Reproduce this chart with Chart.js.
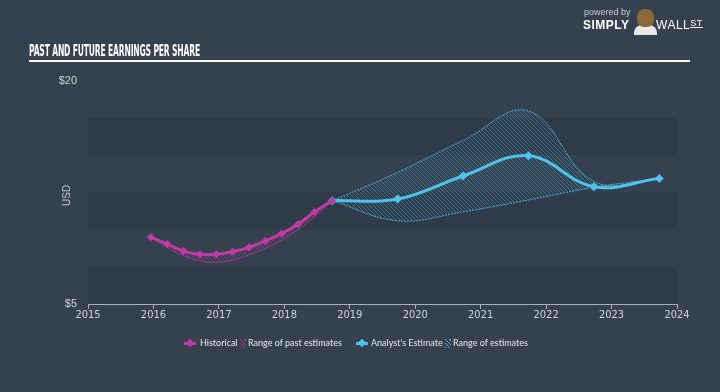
<!DOCTYPE html>
<html>
<head>
<meta charset="utf-8">
<script src="https://cdn.jsdelivr.net/npm/chart.js@4.4.0/dist/chart.umd.min.js"></script>
<style>
  html,body{margin:0;padding:0;background:#35414f;}
  #wrap{position:relative;width:720px;height:392px;background:#35414f;overflow:hidden;font-family:"Liberation Sans",Arial,sans-serif;}
  #c{position:absolute;left:0;top:0;}
  #title{position:absolute;left:29px;top:41px;color:#fff;font-family:"Liberation Sans Narrow","DejaVu Sans Condensed",sans-serif;font-weight:bold;font-size:16px;white-space:nowrap;transform-origin:0 0;letter-spacing:-0.3px;}
  #rule{position:absolute;left:29px;top:60px;width:661px;height:2px;background:#fff;}
  #usd{position:absolute;left:56px;top:190px;color:#c9ced5;font-size:10px;transform:rotate(-90deg);transform-origin:center;}
  .lg{position:absolute;top:337px;color:#e6e9ed;font-size:9px;font-family:Lato,"Liberation Sans",sans-serif;white-space:nowrap;}
  .ico{position:absolute;top:338px;width:12px;height:10px;}
  .ico .ln{position:absolute;left:0;top:4px;width:12px;height:3px;}
  .ico .dm{position:absolute;left:3px;top:2px;width:6px;height:6px;transform:rotate(45deg);}
  .hat{position:absolute;top:339px;width:6px;height:9px;}
  #logo1{position:absolute;left:584px;top:7px;color:#c9ced5;font-size:9px;}
  #logo2{position:absolute;left:583px;top:18px;color:#fff;font-size:12px;font-weight:bold;letter-spacing:0.5px;}
  #logo3{position:absolute;left:656px;top:18px;color:#fff;font-size:12px;letter-spacing:0.5px;}
  #bull{position:absolute;left:637px;top:9px;width:17px;height:18px;border-radius:45% 45% 40% 40%;background:#8a6a3a;}
  #suit{position:absolute;left:634px;top:25px;width:23px;height:10px;border-radius:8px 8px 0 0;background:#e8e8e8;}
</style>
</head>
<body>
<div id="wrap">
  <canvas id="c" width="720" height="392"></canvas>
  <div id="title">PAST AND FUTURE EARNINGS PER SHARE</div>
  <div id="rule"></div>
  <div id="usd">USD</div>
  <div id="logo1">powered by</div>
  <div id="logo2">SIMPLY</div>
  <div id="suit"></div>
  <div id="bull"></div>
  <div id="logo3">WALL<span style="font-size:9px;text-decoration:underline;vertical-align:top;">ST</span></div>

  <div class="ico" style="left:184px"><div class="ln" style="background:#c13ba5"></div><div class="dm" style="background:#c13ba5"></div></div>
  <div class="lg" style="left:200px">Historical</div>
  <div class="hat" style="left:240px;background:repeating-linear-gradient(45deg,rgba(193,59,165,0.8) 0 1px,transparent 1px 3px);"></div>
  <div class="lg" style="left:248px">Range of past estimates</div>
  <div class="ico" style="left:356px"><div class="ln" style="background:#4fc3e9"></div><div class="dm" style="background:#4fc3e9"></div></div>
  <div class="lg" style="left:371px">Analyst's Estimate</div>
  <div class="hat" style="left:445px;background:repeating-linear-gradient(45deg,rgba(79,195,233,0.8) 0 1px,transparent 1px 3px);"></div>
  <div class="lg" style="left:453px">Range of estimates</div>
</div>
<script>
// ---- data ----
const histYears = [2015.96, 2016.21, 2016.46, 2016.71, 2016.96, 2017.21, 2017.46, 2017.71, 2017.96, 2018.21, 2018.46, 2018.73];
const histEPS   = [9.49, 9.03, 8.56, 8.34, 8.34, 8.52, 8.81, 9.24, 9.75, 10.36, 11.19, 11.95];
const pastLow   = [9.49, 8.8, 8.25, 7.9, 7.8, 7.95, 8.3, 8.75, 9.3, 10.0, 10.85, 11.95];
const estYears  = [2018.73, 2019.73, 2020.73, 2021.73, 2022.73, 2023.73];
const estEPS    = [11.95, 12.06, 13.61, 14.97, 12.89, 13.45];
const estHigh   = [11.95, 13.85, 16.0, 17.98, 13.25, 13.45];
const estLow    = [11.95, 10.6, 11.2, 12.0, 12.85, 13.45];
const xTickLabels = ['2015','2016','2017','2018','2019','2020','2021','2022','2023','2024'];
const yTickValues = [5, 20];
const bandRanges = [[5, 7.5], [10, 12.5], [15, 17.5]];

const MAG = '#c13ba5', CYAN = '#4fc3e9';
const ctx = document.getElementById('c').getContext('2d');
function hatch(color){
  const c = document.createElement('canvas'); c.width = 4; c.height = 4;
  const g = c.getContext('2d');
  g.strokeStyle = color; g.lineWidth = 1;
  g.beginPath();
  g.moveTo(0,0); g.lineTo(4,4);
  g.moveTo(-1,3); g.lineTo(1,5);
  g.moveTo(3,-1); g.lineTo(5,1);
  g.stroke();
  return ctx.createPattern(c, 'repeat');
}
const pts = (xs, ys) => xs.map((x,i)=>({x, y: ys[i]}));

const bands = {
  id: 'bands',
  beforeDatasetsDraw(chart){
    const {ctx, chartArea: a, scales: {y}} = chart;
    ctx.save();
    ctx.fillStyle = '#303b49';
    bandRanges.forEach(([lo,hi])=>{
      const t = y.getPixelForValue(hi), b = y.getPixelForValue(lo);
      ctx.fillRect(a.left, t, a.right - a.left, b - t);
    });
    ctx.restore();
  }
};

new Chart(ctx, {
  type: 'line',
  data: {
    datasets: [
      { data: pts(histYears, histEPS), borderColor: MAG, backgroundColor: MAG, borderWidth: 3,
        pointStyle: 'rectRot', pointRadius: 4, pointBackgroundColor: MAG, pointBorderWidth: 0,
        tension: 0.4, fill: {target: 1, above: hatch('rgba(193,59,165,0.55)'), below: hatch('rgba(193,59,165,0.55)')}, order: 0 },
      { data: pts(histYears, pastLow), borderColor: 'rgba(193,59,165,0.7)', borderWidth: 1, pointRadius: 0,
        tension: 0.4, fill: false, order: 2 },
      { data: pts(estYears, estEPS), borderColor: CYAN, backgroundColor: CYAN, borderWidth: 3,
        pointStyle: 'rectRot', pointRadius: 4.5, pointBackgroundColor: CYAN, pointBorderWidth: 0,
        tension: 0.4, fill: false, order: 0 },
      { data: pts(estYears, estHigh), borderColor: 'rgba(79,195,233,0.85)', borderWidth: 1, borderDash: [2,1], pointRadius: 0,
        tension: 0.4, fill: {target: 4, above: hatch('rgba(79,195,233,0.42)'), below: hatch('rgba(79,195,233,0.42)')}, order: 1 },
      { data: pts(estYears, estLow), borderColor: 'rgba(79,195,233,0.85)', borderWidth: 1, borderDash: [2,1], pointRadius: 0,
        tension: 0.4, fill: false, order: 1 }
    ]
  },
  options: {
    responsive: false,
    animation: false,
    layout: { padding: { top: 81, right: 43, left: 0, bottom: 0 } },
    plugins: { legend: { display: false }, tooltip: { enabled: false } },
    scales: {
      x: {
        type: 'linear', min: 2015, max: 2024,
        afterFit(s){ s.height = 88; },
        afterBuildTicks(s){ s.ticks = xTickLabels.map(l=>({value: Number(l)})); },
        ticks: { color: '#cfd4da', font: { size: 11, family: '"Liberation Sans Narrow","DejaVu Sans Condensed",sans-serif' },
                 padding: 0, maxRotation: 0, autoSkip: false,
                 callback: (v)=> xTickLabels[xTickLabels.indexOf(String(v))] },
        grid: { drawOnChartArea: false, drawTicks: true, tickLength: 5, color: '#aab2bb', lineWidth: 1 },
        border: { display: true, color: '#aab2bb', width: 1 }
      },
      y: {
        min: 5, max: 20,
        afterFit(s){ s.width = 88; },
        afterBuildTicks(s){ s.ticks = yTickValues.map(v=>({value: v})); },
        ticks: { color: '#cfd4da', font: { size: 11, family: '"Liberation Sans","DejaVu Sans",sans-serif' },
                 padding: 11, callback: v => '$' + v },
        grid: { display: false, drawTicks: false },
        border: { display: false }
      }
    }
  },
  plugins: [bands]
});

// fit title width to reference
const t = document.getElementById('title');
const w = t.getBoundingClientRect().width;
t.style.transform = 'scaleX(' + (171 / w) + ')';
</script>
</body>
</html>
